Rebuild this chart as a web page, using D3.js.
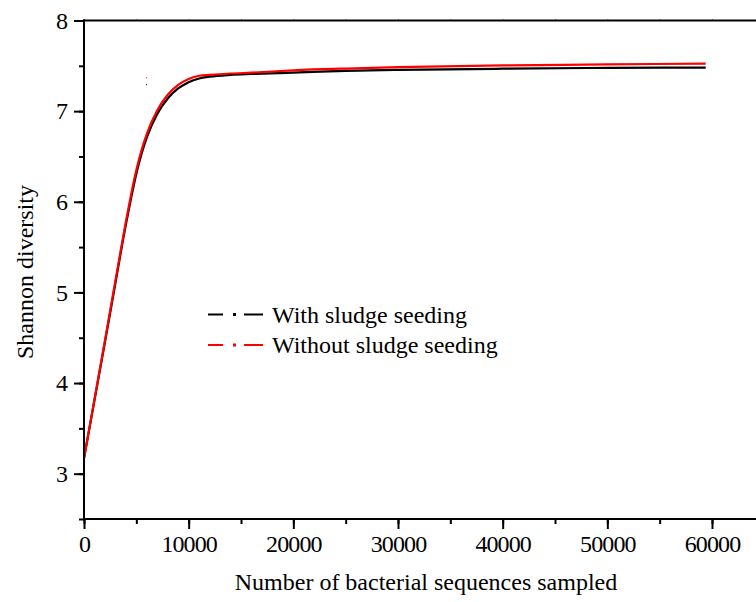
<!DOCTYPE html>
<html>
<head>
<meta charset="utf-8">
<script src="https://cdn.jsdelivr.net/npm/d3@7"></script>
<style>
  html, body { margin: 0; padding: 0; background: #fff; }
  svg { display: block; font-family: "Liberation Serif", "Times New Roman", serif; }
</style>
</head>
<body>
<svg id="chart" width="756" height="602"></svg>
<script>
// ---- data ----
const sampleSizes = [0, 1000, 2000, 3000, 4000, 4500, 5000, 5500, 6000, 7000, 8000, 9000, 10000, 11000, 12000, 14000, 16000, 20000, 25000, 30000, 40000, 50000, 59400];
const withSeeding = [3.17, 3.81, 4.45, 5.10, 5.75, 6.04, 6.31, 6.53, 6.71, 6.97, 7.14, 7.25, 7.32, 7.36, 7.38, 7.40, 7.41, 7.425, 7.445, 7.455, 7.468, 7.477, 7.48];
const withoutSeeding = [3.17, 3.82, 4.47, 5.13, 5.78, 6.08, 6.35, 6.57, 6.75, 7.01, 7.18, 7.29, 7.355, 7.39, 7.40, 7.415, 7.425, 7.45, 7.47, 7.485, 7.505, 7.515, 7.525];
const seriesNames = ["With sludge seeding", "Without sludge seeding"];
const seriesColors = ["#000000", "#ff0000"];
const xTickValues = [0, 10000, 20000, 30000, 40000, 50000, 60000];
const yTickValues = [3, 4, 5, 6, 7, 8];
// stray marks seen in the original
const strayX = [5920, 5920];
const strayY = [7.374, 7.297];

(function () {
const svg = d3.select("#chart");
const pLeft = 84, pTop = 20.5, pBottom = 519;
const x = d3.scaleLinear().domain([0, 60000]).range([pLeft, 712]);
const y = d3.scaleLinear().domain([2.5, 8]).range([pBottom, pTop]);
const xMax = x.invert(756);

const g = svg.append("g");

// lines
const line = d3.line().x(d => x(d[0])).y(d => y(d[1])).curve(d3.curveMonotoneX);
[withSeeding, withoutSeeding].forEach((vals, i) => {
  g.append("path")
    .datum(sampleSizes.map((s, k) => [s, vals[k]]))
    .attr("fill", "none")
    .attr("stroke", seriesColors[i])
    .attr("stroke-width", 2.2)
    .attr("d", line);
});

// stray tiny marks
strayX.forEach((sx, i) => {
  g.append("rect").attr("x", x(sx)).attr("y", y(strayY[i])).attr("width", 1).attr("height", 1)
    .attr("fill", i === 0 ? "#ff0000" : "#000");
});

// axes
const axisFont = "24px";
const xMinor = d3.range(0, 65001, 5000);
const yMinor = d3.range(2.5, 8.01, 0.5);

const xAxis = g.append("g").attr("transform", `translate(0,${pBottom})`)
  .call(d3.axisBottom(x).tickValues(xMinor).tickSize(5).tickFormat(""));
xAxis.select(".domain").remove();
xAxis.selectAll("line").attr("stroke-width", 2);
const xAxisMaj = g.append("g").attr("transform", `translate(0,${pBottom})`)
  .call(d3.axisBottom(x).tickValues(xTickValues).tickSize(10).tickPadding(6).tickFormat(d3.format("d")));
xAxisMaj.select(".domain").remove();
xAxisMaj.selectAll("line").attr("stroke-width", 2);
xAxisMaj.selectAll("text").attr("font-size", axisFont).attr("font-family", "Liberation Serif")
  .attr("fill", "#000").attr("letter-spacing", "-0.9px");

const yAxis = g.append("g").attr("transform", `translate(${pLeft},0)`)
  .call(d3.axisLeft(y).tickValues(yMinor).tickSize(5).tickFormat(""));
yAxis.select(".domain").remove();
yAxis.selectAll("line").attr("stroke-width", 2);
const yAxisMaj = g.append("g").attr("transform", `translate(${pLeft},0)`)
  .call(d3.axisLeft(y).tickValues(yTickValues).tickSize(10).tickPadding(6).tickFormat(d3.format("d")));
yAxisMaj.select(".domain").remove();
yAxisMaj.selectAll("line").attr("stroke-width", 2);
yAxisMaj.selectAll("text").attr("font-size", axisFont).attr("font-family", "Liberation Serif").attr("fill", "#000");

// top axis small ticks
const topAxis = g.append("g").attr("transform", `translate(0,${pTop})`)
  .call(d3.axisTop(x).tickValues(xMinor).tickSize(1.5).tickFormat(""));
topAxis.select(".domain").remove();
topAxis.selectAll("line").attr("stroke", "#888").attr("stroke-width", 1);

// axis lines
g.append("line").attr("x1", pLeft).attr("x2", pLeft).attr("y1", pTop - 1).attr("y2", pBottom + 1)
  .attr("stroke", "#000").attr("stroke-width", 2);
g.append("line").attr("x1", pLeft - 1).attr("x2", x(xMax)).attr("y1", pBottom).attr("y2", pBottom)
  .attr("stroke", "#000").attr("stroke-width", 2);
g.append("line").attr("x1", pLeft - 1).attr("x2", x(xMax)).attr("y1", pTop).attr("y2", pTop)
  .attr("stroke", "#000").attr("stroke-width", 2);

// axis titles
svg.append("text").attr("x", 426).attr("y", 590).attr("text-anchor", "middle")
  .attr("font-size", "24px").attr("fill", "#000").text("Number of bacterial sequences sampled");
svg.append("text").attr("transform", "translate(33,272) rotate(-90)").attr("text-anchor", "middle")
  .attr("font-size", "24px").attr("fill", "#000").text("Shannon diversity");

// legend
const legY = [314.5, 345];
seriesNames.forEach((name, i) => {
  const lg = svg.append("g").attr("transform", `translate(0,${legY[i]})`);
  lg.append("line").attr("x1", 208).attr("x2", 223).attr("y1", 0).attr("y2", 0)
    .attr("stroke", seriesColors[i]).attr("stroke-width", 2);
  lg.append("rect").attr("x", 233).attr("y", -1.5).attr("width", 3).attr("height", 3)
    .attr("fill", seriesColors[i]);
  lg.append("line").attr("x1", 244).attr("x2", 263).attr("y1", 0).attr("y2", 0)
    .attr("stroke", seriesColors[i]).attr("stroke-width", 2);
  lg.append("text").attr("x", 272).attr("y", 8).attr("font-size", "24px").attr("fill", "#000").text(name);
});
})();
</script>
</body>
</html>
